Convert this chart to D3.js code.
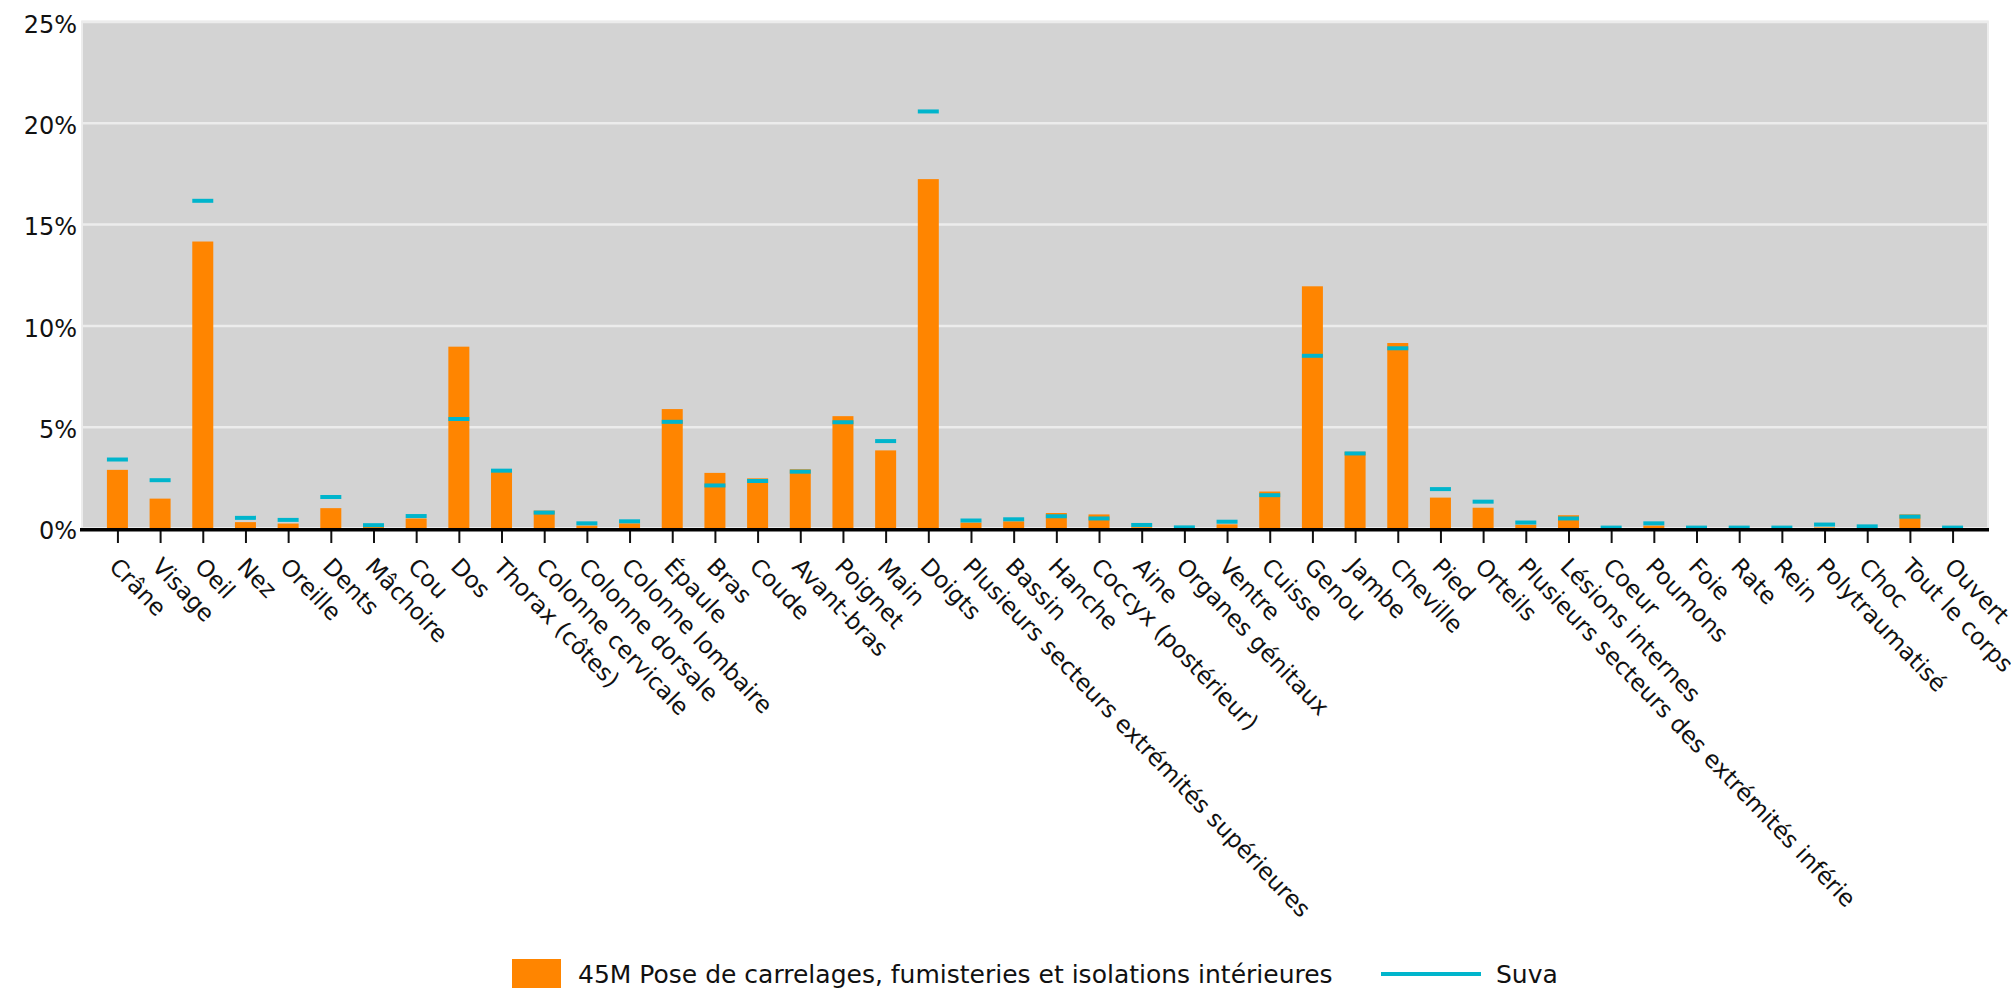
<!DOCTYPE html>
<html>
<head>
<meta charset="utf-8">
<script src="https://cdn.jsdelivr.net/npm/d3@7"></script>
<style>
body { margin: 0; background: #fff; }
text { font-family: "DejaVu Sans", Verdana, sans-serif; fill: #111; }
</style>
</head>
<body>
<svg id="chart" width="2011" height="991"></svg>
<script>
// body parts (x axis)
var categories = ["Crâne", "Visage", "Oeil", "Nez", "Oreille", "Dents", "Mâchoire", "Cou", "Dos",
    "Thorax (côtes)", "Colonne cervicale", "Colonne dorsale", "Colonne lombaire", "Épaule", "Bras",
    "Coude", "Avant-bras", "Poignet", "Main", "Doigts", "Plusieurs secteurs extrémités supérieures",
    "Bassin", "Hanche", "Coccyx (postérieur)", "Aine", "Organes génitaux", "Ventre", "Cuisse", "Genou",
    "Jambe", "Cheville", "Pied", "Orteils", "Plusieurs secteurs des extrémités inférieures",
    "Lésions internes", "Coeur", "Poumons", "Foie", "Rate", "Rein", "Polytraumatisé", "Choc",
    "Tout le corps", "Ouvert"];

// share of cases in %, branch 45M (bars)
var branche = [2.87, 1.45, 14.14, 0.29, 0.22, 0.98, 0.05, 0.47, 8.95,
    2.9, 0.86, 0.12, 0.23, 5.87, 2.72,
    2.45, 2.9, 5.52, 3.83, 17.22, 0.27,
    0.33, 0.74, 0.67, 0.04, 0, 0.18, 1.8, 11.93,
    3.76, 9.13, 1.5, 1.0, 0.16,
    0.63, 0, 0.12, 0, 0, 0, 0.03, 0,
    0.67, 0];

// share of cases in %, whole Suva (markers)
var suva = [3.38, 2.36, 16.15, 0.5, 0.4, 1.53, 0.14, 0.59, 5.38,
    2.83, 0.76, 0.23, 0.33, 5.24, 2.1,
    2.32, 2.78, 5.22, 4.29, 20.56, 0.37,
    0.43, 0.58, 0.47, 0.15, 0.03, 0.31, 1.62, 8.5,
    3.68, 8.87, 1.92, 1.3, 0.27,
    0.47, 0.02, 0.23, 0.02, 0.02, 0.02, 0.17, 0.08,
    0.56, 0.02];

var yTicks = [0, 5, 10, 15, 20, 25];
var seriesNames = ["45M Pose de carrelages, fumisteries et isolations intérieures", "Suva"];
var maxLabelChars = 41; // long labels are cut like in the original

function drawChart() {
    var svg = d3.select("#chart");
    var pLeft = 82, pRight = 1988, pTop = 21.5, pBottom = 528;
    var barW = 21;
    var orange = "#ff8500", teal = "#00b5cc";

    var xs = d3.scalePoint()
        .domain(categories)
        .range([pLeft, pRight])
        .padding(0.83);
    var ys = d3.scaleLinear()
        .domain([0, 25])
        .range([pBottom, pTop]);

    // plot background
    svg.append("rect")
        .attr("x", pLeft).attr("y", pTop)
        .attr("width", pRight - pLeft).attr("height", pBottom - pTop)
        .attr("fill", "#d3d3d3")
        .attr("stroke", "#ececec")
        .attr("stroke-width", 2);

    // gridlines
    var grid = svg.append("g")
        .attr("transform", `translate(${pLeft},0)`)
        .call(d3.axisLeft(ys).tickValues(yTicks.slice(1)).tickSize(-(pRight - pLeft)).tickFormat(""));
    grid.select(".domain").remove();
    grid.selectAll("line").attr("stroke", "#ececec").attr("stroke-width", 2.5);

    // y axis labels
    var yAxis = svg.append("g")
        .attr("transform", `translate(${pLeft},3)`)
        .call(d3.axisLeft(ys).tickValues(yTicks).tickFormat(d => d + "%").tickSize(0).tickPadding(5));
    yAxis.select(".domain").remove();
    yAxis.selectAll("text").style("font-size", "24px").attr("fill", "#111");

    // bars
    svg.append("g").selectAll("rect")
        .data(categories)
        .enter().append("rect")
        .attr("x", d => xs(d) - barW / 2)
        .attr("y", (d, i) => ys(branche[i]))
        .attr("width", barW)
        .attr("height", (d, i) => ys(0) - ys(branche[i]))
        .attr("fill", orange);

    // suva markers
    svg.append("g").selectAll("line")
        .data(categories)
        .enter().append("line")
        .attr("x1", d => xs(d) - barW / 2)
        .attr("x2", d => xs(d) + barW / 2)
        .attr("y1", (d, i) => ys(suva[i]))
        .attr("y2", (d, i) => ys(suva[i]))
        .attr("stroke", teal)
        .attr("stroke-width", 4);

    // x axis
    var xAxis = svg.append("g")
        .attr("transform", `translate(0,531)`)
        .call(d3.axisBottom(xs).tickSize(12).tickSizeOuter(0)
            .tickFormat(d => d.length > maxLabelChars ? d.slice(0, maxLabelChars) : d));
    xAxis.select(".domain").remove();
    xAxis.selectAll(".tick line").attr("stroke", "#111").attr("stroke-width", 2);
    xAxis.selectAll("text")
        .attr("y", null)
        .attr("dy", "0.35em")
        .attr("transform", "translate(-4,31) rotate(46)")
        .style("text-anchor", "start")
        .style("font-size", "23.3px")
        .attr("fill", "#111");

    svg.append("line")
        .attr("x1", pLeft - 2).attr("x2", pRight + 1)
        .attr("y1", 529.7).attr("y2", 529.7)
        .attr("stroke", "#000")
        .attr("stroke-width", 3.5);

    // legend
    var legend = svg.append("g").attr("class", "legend");
    legend.append("rect")
        .attr("x", 512).attr("y", 959)
        .attr("width", 49).attr("height", 29)
        .attr("fill", orange);
    legend.append("text")
        .attr("x", 578).attr("y", 974).attr("dy", "0.35em")
        .style("font-size", "25px")
        .text(seriesNames[0]);
    legend.append("line")
        .attr("x1", 1381).attr("x2", 1481)
        .attr("y1", 974).attr("y2", 974)
        .attr("stroke", teal)
        .attr("stroke-width", 4);
    legend.append("text")
        .attr("x", 1496).attr("y", 974).attr("dy", "0.35em")
        .style("font-size", "25px")
        .text(seriesNames[1]);
}

drawChart();
</script>
</body>
</html>
